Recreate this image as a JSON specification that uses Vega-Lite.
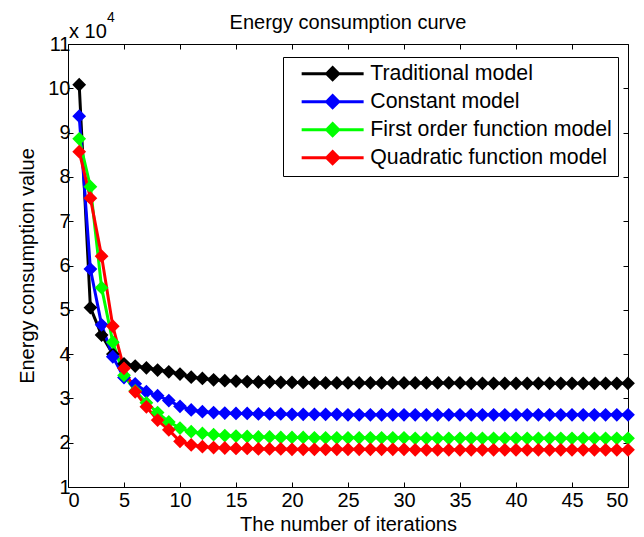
{
  "$schema": "https://vega.github.io/schema/vega-lite/v6.json",
  "autosize": "none",
  "width": 560,
  "height": 443,
  "padding": {"left": 68, "top": 44, "right": 16, "bottom": 50},
  "background": "white",
  "title": {"text": "Energy consumption curve", "fontSize": 20, "fontWeight": "normal", "font": "Liberation Sans", "color": "black", "offset": -22},
  "config": {
    "font": "Liberation Sans",
    "view": {"stroke": "black", "strokeWidth": 1},
    "axis": {"grid": false, "domainColor": "black", "tickColor": "black", "labelColor": "black", "titleColor": "black", "labelFont": "Liberation Sans", "titleFont": "Liberation Sans", "labelFontSize": 20, "titleFontSize": 20, "titleFontWeight": "normal", "tickSize": -5}
  },
  "datasets": {
    "d": [
      {"it":1,"series":"Traditional model","v":10.08},{"it":2,"series":"Traditional model","v":5.05},{"it":3,"series":"Traditional model","v":4.43},{"it":4,"series":"Traditional model","v":4.0},{"it":5,"series":"Traditional model","v":3.78},{"it":6,"series":"Traditional model","v":3.73},{"it":7,"series":"Traditional model","v":3.69},{"it":8,"series":"Traditional model","v":3.64},{"it":9,"series":"Traditional model","v":3.6},{"it":10,"series":"Traditional model","v":3.55},{"it":11,"series":"Traditional model","v":3.48},{"it":12,"series":"Traditional model","v":3.45},{"it":13,"series":"Traditional model","v":3.42},{"it":14,"series":"Traditional model","v":3.4},{"it":15,"series":"Traditional model","v":3.39},{"it":16,"series":"Traditional model","v":3.38},{"it":17,"series":"Traditional model","v":3.37},{"it":18,"series":"Traditional model","v":3.37},{"it":19,"series":"Traditional model","v":3.36},{"it":20,"series":"Traditional model","v":3.36},{"it":21,"series":"Traditional model","v":3.36},{"it":22,"series":"Traditional model","v":3.35},{"it":23,"series":"Traditional model","v":3.35},{"it":24,"series":"Traditional model","v":3.35},{"it":25,"series":"Traditional model","v":3.35},{"it":26,"series":"Traditional model","v":3.35},{"it":27,"series":"Traditional model","v":3.35},{"it":28,"series":"Traditional model","v":3.35},{"it":29,"series":"Traditional model","v":3.35},{"it":30,"series":"Traditional model","v":3.35},{"it":31,"series":"Traditional model","v":3.35},{"it":32,"series":"Traditional model","v":3.35},{"it":33,"series":"Traditional model","v":3.35},{"it":34,"series":"Traditional model","v":3.35},{"it":35,"series":"Traditional model","v":3.35},{"it":36,"series":"Traditional model","v":3.34},{"it":37,"series":"Traditional model","v":3.34},{"it":38,"series":"Traditional model","v":3.34},{"it":39,"series":"Traditional model","v":3.34},{"it":40,"series":"Traditional model","v":3.34},{"it":41,"series":"Traditional model","v":3.34},{"it":42,"series":"Traditional model","v":3.34},{"it":43,"series":"Traditional model","v":3.34},{"it":44,"series":"Traditional model","v":3.34},{"it":45,"series":"Traditional model","v":3.34},{"it":46,"series":"Traditional model","v":3.34},{"it":47,"series":"Traditional model","v":3.34},{"it":48,"series":"Traditional model","v":3.34},{"it":49,"series":"Traditional model","v":3.34},{"it":50,"series":"Traditional model","v":3.34},
      {"it":1,"series":"Constant model","v":9.37},{"it":2,"series":"Constant model","v":5.92},{"it":3,"series":"Constant model","v":4.66},{"it":4,"series":"Constant model","v":3.94},{"it":5,"series":"Constant model","v":3.47},{"it":6,"series":"Constant model","v":3.33},{"it":7,"series":"Constant model","v":3.15},{"it":8,"series":"Constant model","v":3.06},{"it":9,"series":"Constant model","v":2.95},{"it":10,"series":"Constant model","v":2.82},{"it":11,"series":"Constant model","v":2.74},{"it":12,"series":"Constant model","v":2.7},{"it":13,"series":"Constant model","v":2.68},{"it":14,"series":"Constant model","v":2.67},{"it":15,"series":"Constant model","v":2.66},{"it":16,"series":"Constant model","v":2.66},{"it":17,"series":"Constant model","v":2.65},{"it":18,"series":"Constant model","v":2.65},{"it":19,"series":"Constant model","v":2.65},{"it":20,"series":"Constant model","v":2.64},{"it":21,"series":"Constant model","v":2.64},{"it":22,"series":"Constant model","v":2.64},{"it":23,"series":"Constant model","v":2.64},{"it":24,"series":"Constant model","v":2.64},{"it":25,"series":"Constant model","v":2.63},{"it":26,"series":"Constant model","v":2.63},{"it":27,"series":"Constant model","v":2.63},{"it":28,"series":"Constant model","v":2.63},{"it":29,"series":"Constant model","v":2.63},{"it":30,"series":"Constant model","v":2.63},{"it":31,"series":"Constant model","v":2.63},{"it":32,"series":"Constant model","v":2.63},{"it":33,"series":"Constant model","v":2.63},{"it":34,"series":"Constant model","v":2.63},{"it":35,"series":"Constant model","v":2.63},{"it":36,"series":"Constant model","v":2.63},{"it":37,"series":"Constant model","v":2.63},{"it":38,"series":"Constant model","v":2.63},{"it":39,"series":"Constant model","v":2.63},{"it":40,"series":"Constant model","v":2.63},{"it":41,"series":"Constant model","v":2.63},{"it":42,"series":"Constant model","v":2.63},{"it":43,"series":"Constant model","v":2.63},{"it":44,"series":"Constant model","v":2.63},{"it":45,"series":"Constant model","v":2.63},{"it":46,"series":"Constant model","v":2.63},{"it":47,"series":"Constant model","v":2.63},{"it":48,"series":"Constant model","v":2.63},{"it":49,"series":"Constant model","v":2.63},{"it":50,"series":"Constant model","v":2.63},
      {"it":1,"series":"First order function model","v":8.86},{"it":2,"series":"First order function model","v":7.78},{"it":3,"series":"First order function model","v":5.5},{"it":4,"series":"First order function model","v":4.27},{"it":5,"series":"First order function model","v":3.52},{"it":6,"series":"First order function model","v":3.17},{"it":7,"series":"First order function model","v":2.9},{"it":8,"series":"First order function model","v":2.68},{"it":9,"series":"First order function model","v":2.47},{"it":10,"series":"First order function model","v":2.33},{"it":11,"series":"First order function model","v":2.25},{"it":12,"series":"First order function model","v":2.21},{"it":13,"series":"First order function model","v":2.18},{"it":14,"series":"First order function model","v":2.16},{"it":15,"series":"First order function model","v":2.15},{"it":16,"series":"First order function model","v":2.14},{"it":17,"series":"First order function model","v":2.13},{"it":18,"series":"First order function model","v":2.13},{"it":19,"series":"First order function model","v":2.12},{"it":20,"series":"First order function model","v":2.12},{"it":21,"series":"First order function model","v":2.12},{"it":22,"series":"First order function model","v":2.11},{"it":23,"series":"First order function model","v":2.11},{"it":24,"series":"First order function model","v":2.11},{"it":25,"series":"First order function model","v":2.11},{"it":26,"series":"First order function model","v":2.11},{"it":27,"series":"First order function model","v":2.11},{"it":28,"series":"First order function model","v":2.11},{"it":29,"series":"First order function model","v":2.11},{"it":30,"series":"First order function model","v":2.11},{"it":31,"series":"First order function model","v":2.1},{"it":32,"series":"First order function model","v":2.1},{"it":33,"series":"First order function model","v":2.1},{"it":34,"series":"First order function model","v":2.1},{"it":35,"series":"First order function model","v":2.1},{"it":36,"series":"First order function model","v":2.1},{"it":37,"series":"First order function model","v":2.1},{"it":38,"series":"First order function model","v":2.1},{"it":39,"series":"First order function model","v":2.1},{"it":40,"series":"First order function model","v":2.1},{"it":41,"series":"First order function model","v":2.1},{"it":42,"series":"First order function model","v":2.1},{"it":43,"series":"First order function model","v":2.1},{"it":44,"series":"First order function model","v":2.1},{"it":45,"series":"First order function model","v":2.1},{"it":46,"series":"First order function model","v":2.1},{"it":47,"series":"First order function model","v":2.1},{"it":48,"series":"First order function model","v":2.1},{"it":49,"series":"First order function model","v":2.1},{"it":50,"series":"First order function model","v":2.1},
      {"it":1,"series":"Quadratic function model","v":8.57},{"it":2,"series":"Quadratic function model","v":7.52},{"it":3,"series":"Quadratic function model","v":6.21},{"it":4,"series":"Quadratic function model","v":4.63},{"it":5,"series":"Quadratic function model","v":3.68},{"it":6,"series":"Quadratic function model","v":3.15},{"it":7,"series":"Quadratic function model","v":2.81},{"it":8,"series":"Quadratic function model","v":2.51},{"it":9,"series":"Quadratic function model","v":2.29},{"it":10,"series":"Quadratic function model","v":2.03},{"it":11,"series":"Quadratic function model","v":1.95},{"it":12,"series":"Quadratic function model","v":1.91},{"it":13,"series":"Quadratic function model","v":1.89},{"it":14,"series":"Quadratic function model","v":1.88},{"it":15,"series":"Quadratic function model","v":1.87},{"it":16,"series":"Quadratic function model","v":1.87},{"it":17,"series":"Quadratic function model","v":1.86},{"it":18,"series":"Quadratic function model","v":1.86},{"it":19,"series":"Quadratic function model","v":1.86},{"it":20,"series":"Quadratic function model","v":1.85},{"it":21,"series":"Quadratic function model","v":1.85},{"it":22,"series":"Quadratic function model","v":1.85},{"it":23,"series":"Quadratic function model","v":1.85},{"it":24,"series":"Quadratic function model","v":1.85},{"it":25,"series":"Quadratic function model","v":1.85},{"it":26,"series":"Quadratic function model","v":1.85},{"it":27,"series":"Quadratic function model","v":1.85},{"it":28,"series":"Quadratic function model","v":1.85},{"it":29,"series":"Quadratic function model","v":1.85},{"it":30,"series":"Quadratic function model","v":1.85},{"it":31,"series":"Quadratic function model","v":1.84},{"it":32,"series":"Quadratic function model","v":1.84},{"it":33,"series":"Quadratic function model","v":1.84},{"it":34,"series":"Quadratic function model","v":1.84},{"it":35,"series":"Quadratic function model","v":1.84},{"it":36,"series":"Quadratic function model","v":1.84},{"it":37,"series":"Quadratic function model","v":1.84},{"it":38,"series":"Quadratic function model","v":1.84},{"it":39,"series":"Quadratic function model","v":1.84},{"it":40,"series":"Quadratic function model","v":1.84},{"it":41,"series":"Quadratic function model","v":1.84},{"it":42,"series":"Quadratic function model","v":1.84},{"it":43,"series":"Quadratic function model","v":1.84},{"it":44,"series":"Quadratic function model","v":1.84},{"it":45,"series":"Quadratic function model","v":1.84},{"it":46,"series":"Quadratic function model","v":1.84},{"it":47,"series":"Quadratic function model","v":1.84},{"it":48,"series":"Quadratic function model","v":1.84},{"it":49,"series":"Quadratic function model","v":1.84},{"it":50,"series":"Quadratic function model","v":1.84}
    ]
  },
  "layer": [
    {
      "data": {"name": "d"},
      "mark": {"type": "line", "strokeWidth": 3},
      "encoding": {
        "x": {"field": "it", "type": "quantitative", "scale": {"domain": [0, 50], "nice": false}, "axis": {"orient": "top", "labels": false, "title": null, "values": [0,5,10,15,20,25,30,35,40,45,50], "domain": false}},
        "y": {"field": "v", "type": "quantitative", "scale": {"domain": [1, 11], "nice": false, "zero": false}, "axis": {"orient": "right", "labels": false, "title": null, "values": [1,2,3,4,5,6,7,8,9,10,11], "domain": false}},
        "color": {"field": "series", "type": "nominal", "scale": {"domain": ["Traditional model", "Constant model", "First order function model", "Quadratic function model"], "range": ["#000000", "#0000ff", "#00ff00", "#ff0000"]}, "legend": {"title": null, "orient": "none", "legendX": 215, "legendY": 13, "strokeColor": "black", "fillColor": "white", "padding": 6, "labelFontSize": 21.3, "labelFont": "Liberation Sans", "labelColor": "black", "labelLimit": 0, "symbolType": "M0.286,0H9.14M4.71,-0.857L5.57,0L4.71,0.857L3.86,0Z", "symbolSize": 196, "symbolStrokeWidth": 3, "rowPadding": 3, "labelOffset": 60, "cornerRadius": 0}}
      }
    },
    {
      "data": {"name": "d"},
      "mark": {"type": "point", "shape": "diamond", "filled": true, "size": 120, "opacity": 1, "strokeWidth": 2},
      "encoding": {
        "x": {"field": "it", "type": "quantitative", "axis": {"orient": "bottom", "title": "The number of iterations", "values": [0,5,10,15,20,25,30,35,40,45,50], "domain": false, "labelPadding": 8, "titlePadding": 4}},
        "y": {"field": "v", "type": "quantitative", "axis": {"orient": "left", "title": "Energy consumption value", "values": [1,2,3,4,5,6,7,8,9,10,11], "domain": false, "labelPadding": 3, "titlePadding": 10}},
        "color": {"field": "series", "type": "nominal"},
        "stroke": {"field": "series", "type": "nominal", "scale": {"domain": ["Traditional model", "Constant model", "First order function model", "Quadratic function model"], "range": ["#000000", "#0000ff", "#00ff00", "#ff0000"]}, "legend": null}
      }
    },
    {
      "data": {"values": [{"t": "x 10", "x": 0, "y": 11}]},
      "mark": {"type": "text", "fontSize": 20, "font": "Liberation Sans", "align": "left", "baseline": "alphabetic", "dx": 1, "dy": -6, "color": "black"},
      "encoding": {"x": {"field": "x", "type": "quantitative", "axis": null}, "y": {"field": "y", "type": "quantitative", "axis": null}, "text": {"field": "t"}}
    },
    {
      "data": {"values": [{"t": "4", "x": 0, "y": 11}]},
      "mark": {"type": "text", "fontSize": 14, "font": "Liberation Sans", "align": "left", "baseline": "alphabetic", "dx": 39, "dy": -22, "color": "black"},
      "encoding": {"x": {"field": "x", "type": "quantitative", "axis": null}, "y": {"field": "y", "type": "quantitative", "axis": null}, "text": {"field": "t"}}
    }
  ]
}
